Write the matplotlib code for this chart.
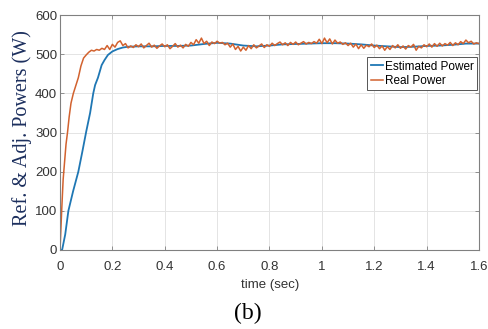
import numpy as np
import matplotlib
matplotlib.use("Agg")
import matplotlib.pyplot as plt
from matplotlib import font_manager

# Estimated power (smooth rise then settle)
est_t = [0.0, 0.008, 0.02, 0.032, 0.05, 0.07, 0.085, 0.10, 0.115, 0.127,
         0.134, 0.145, 0.159, 0.17, 0.183, 0.20, 0.22, 0.24, 0.26,
         0.30, 0.35, 0.40, 0.45, 0.50, 0.55, 0.60, 0.65, 0.70, 0.75,
         0.80, 0.85, 0.90, 0.95, 1.00, 1.05, 1.10, 1.15, 1.20, 1.25,
         1.30, 1.35, 1.40, 1.45, 1.50, 1.55, 1.60]
est_p = [0, 0, 40, 100, 150, 200, 250, 302, 350, 400,
         421, 440, 472, 485, 498, 507, 513, 517, 519,
         520, 520, 521, 521, 522, 526, 529, 527, 522, 520,
         522, 525, 526, 527, 528, 528, 527, 525, 522, 520,
         518, 519, 521, 522, 524, 527, 527]

# Real power: fast rise part
real_rise_t = [0.0, 0.003, 0.0065, 0.012, 0.018, 0.023, 0.029, 0.035, 0.042,
               0.051, 0.058, 0.064, 0.07, 0.075, 0.08, 0.085, 0.09, 0.10,
               0.11, 0.12, 0.13, 0.14, 0.15, 0.16, 0.17, 0.18, 0.19, 0.20,
               0.21, 0.22, 0.23, 0.24, 0.25, 0.26]
real_rise_p = [0, 50, 102, 180, 230, 270, 302, 340, 375,
               400, 415, 428, 440, 455, 470, 480, 490, 498,
               505, 510, 508, 512, 510, 515, 512, 522, 512, 525,
               518, 530, 534, 522, 527, 516]

# Real power: steady part, sampled every 10 ms from 0.27 s
real_steady_p = [
    521, 517, 524, 519, 526, 516, 522, 528, 518, 523,
    515, 521, 526, 519, 524, 514, 520, 527, 518, 523,
    516, 525, 520, 530, 524, 537, 528, 541, 527, 533,
    522, 531, 527, 533, 528, 530, 524, 528, 518, 526,
    512, 520, 508, 518, 510, 522, 514, 524, 516, 521,
    526, 517, 524, 520, 528, 522, 527, 531, 524, 529,
    522, 530, 525, 531, 524, 528, 532, 526, 530, 527,
    532, 528, 538, 527, 541, 529, 539, 526, 536, 528,
    531, 525, 529, 522, 528, 518, 526, 514, 524, 515,
    523, 519, 526, 517, 523, 514, 521, 510, 519, 512,
    522, 516, 524, 515, 521, 513, 522, 518, 525, 510,
    520, 516, 524, 519, 526, 518, 527, 520, 528, 521,
    527, 523, 530, 522, 529, 524, 532, 527, 536, 529,
    533, 526, 529, 527]
real_steady_t = 0.27 + 0.01 * np.arange(len(real_steady_p))

x_ticks = [0, 0.2, 0.4, 0.6, 0.8, 1.0, 1.2, 1.4, 1.6]
x_labels = ["0", "0.2", "0.4", "0.6", "0.8", "1", "1.2", "1.4", "1.6"]
y_ticks = [0, 100, 200, 300, 400, 500, 600]


def pick_font(names):
    have = {f.name for f in font_manager.fontManager.ttflist}
    for n in names:
        if n in have:
            return n
    return "DejaVu Sans"


sans = pick_font(["Liberation Sans Narrow", "Liberation Sans", "Arial"])
serif = pick_font(["Liberation Serif", "Times New Roman", "DejaVu Serif"])

fig = plt.figure(figsize=(4.89, 3.29), dpi=100)
ax = fig.add_axes([60 / 489, 1 - 250 / 329, 419 / 489, 235 / 329])

real_t = list(real_rise_t) + list(real_steady_t)
real_p = list(real_rise_p) + list(real_steady_p)

ax.plot(est_t, est_p, color="#1f77b4", lw=1.3, label="Estimated Power")
ax.plot(real_t, real_p, color="#D2622F", lw=1.1, label="Real Power")

ax.set_xlim(0, 1.6)
ax.set_ylim(0, 600)
ax.set_xticks(x_ticks)
ax.set_xticklabels(x_labels)
ax.set_yticks(y_ticks)
ax.grid(True, color="#e4e4e4", lw=0.7)
ax.set_axisbelow(True)
for s in ax.spines.values():
    s.set_color("#808080")
    s.set_linewidth(0.8)
ax.tick_params(direction="in", length=3, width=0.6, color="#808080",
               top=True, right=True, labelcolor="#333333", labelsize=9.5)
ax.tick_params(axis="x", pad=8)
ax.tick_params(axis="y", pad=2)
for lab in ax.get_xticklabels() + ax.get_yticklabels():
    lab.set_fontfamily(sans)

leg = ax.legend(loc="upper right", bbox_to_anchor=(477 / 489, 1 - 57 / 329),
                bbox_transform=fig.transFigure, borderaxespad=0,
                fancybox=False, framealpha=1, edgecolor="#555555",
                handlelength=1.0, handletextpad=0.15, labelspacing=0.2,
                borderpad=0.3, prop={"family": sans, "size": 8.5})
leg.get_frame().set_linewidth(0.7)

fig.text(270 / 489, 1 - 285 / 329, "time (sec)", ha="center", va="center",
         family=sans, fontsize=9.5, color="#333333")
fig.text(248 / 489, 1 - 313 / 329, "(b)", ha="center", va="center",
         family=serif, fontsize=17, color="black")
fig.text(22 / 489, 1 - 128 / 329, "Ref. & Adj. Powers (W)", rotation=90,
         ha="center", va="center", family=serif, fontsize=14.5,
         color="#1c2f5e")

fig.savefig("out.png", dpi=100)
